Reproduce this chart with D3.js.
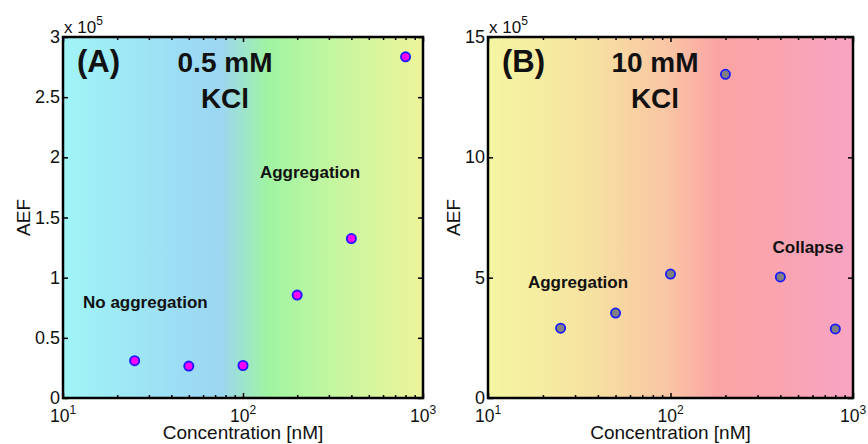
<!DOCTYPE html>
<html><head><meta charset="utf-8">
<script src="https://cdn.jsdelivr.net/npm/d3@7"></script>
<style>body{margin:0;background:#fff}svg{display:block;font-family:"Liberation Sans",Arial,sans-serif}</style>
</head><body>
<svg id="c" width="868" height="444"></svg>
<script>
const concentrations = [25, 50, 100, 200, 400, 800];
const aefA = [0.31, 0.265, 0.27, 0.855, 1.325, 2.835]; // x 10^5
const aefB = [2.9, 3.53, 5.15, 13.45, 5.03, 2.87];    // x 10^5
const yTicksA = [0, 0.5, 1, 1.5, 2, 2.5, 3];
const yTicksB = [0, 5, 10, 15];
const xMajor = [10, 100, 1000];
const xExp = [1, 2, 3];

const svg = d3.select("#c");
const panels = [
  {id:"A", left:63, right:423, yMax:3, ticks:yTicksA, data:aefA, fill:"#ff00ff", aefX:30,
   stops:[[0,"#a0f4f6"],[0.34,"#9cdcf4"],[0.44,"#9cd6f0"],[0.57,"#a0f4a2"],[0.75,"#c4f6a0"],[1,"#eef49a"]],
   label:"(A)", title:["0.5 mM","KCl"], titleX:225,
   notes:[{t:"Aggregation",x:310,y:178,a:"middle"},{t:"No aggregation",x:83,y:308,a:"start"}]},
  {id:"B", left:488, right:853, yMax:15, ticks:yTicksB, data:aefB, fill:"#808080", aefX:460,
   stops:[[0,"#f4f6a2"],[0.26,"#f6e4a0"],[0.49,"#f9c6a4"],[0.63,"#fba4a4"],[0.8,"#faa4b0"],[1,"#f8a4c4"]],
   label:"(B)", title:["10 mM","KCl"], titleX:655,
   notes:[{t:"Aggregation",x:578,y:288,a:"middle"},{t:"Collapse",x:808,y:253,a:"middle"}]}
];
const plotTop = 37, plotBottom = 398;
const defs = svg.append("defs");

function styleAxis(g){
  g.select(".domain").remove();
  g.selectAll(".tick line").attr("stroke","#000").attr("stroke-width",1.5);
  g.selectAll(".tick text").remove();
}

panels.forEach(p => {
  const x = d3.scaleLog().domain([10,1000]).range([p.left,p.right]);
  const y = d3.scaleLinear().domain([0,p.yMax]).range([plotBottom,plotTop]);
  const g = defs.append("linearGradient").attr("id","g"+p.id).attr("x1","0").attr("x2","1").attr("y1","0").attr("y2","0");
  p.stops.forEach(s => g.append("stop").attr("offset",s[0]).attr("stop-color",s[1]));
  svg.append("rect").attr("x",p.left).attr("y",plotTop).attr("width",p.right-p.left).attr("height",plotBottom-plotTop).attr("fill","url(#g"+p.id+")");

  const minor = [];
  for (let d=10; d<1000; d*=10) for (let k=2;k<=9;k++) minor.push(d*k);

  // inward ticks via d3 axes
  svg.append("g").attr("transform",`translate(0,${plotBottom})`).call(d3.axisBottom(x).tickValues(minor).tickSize(-3)).call(styleAxis);
  svg.append("g").attr("transform",`translate(0,${plotTop})`).call(d3.axisTop(x).tickValues(minor).tickSize(-3)).call(styleAxis);
  svg.append("g").attr("transform",`translate(0,${plotBottom})`).call(d3.axisBottom(x).tickValues(xMajor).tickSize(-5)).call(styleAxis);
  svg.append("g").attr("transform",`translate(0,${plotTop})`).call(d3.axisTop(x).tickValues(xMajor).tickSize(-5)).call(styleAxis);
  svg.append("g").attr("transform",`translate(${p.left},0)`).call(d3.axisLeft(y).tickValues(p.ticks).tickSize(-5)).call(styleAxis);
  svg.append("g").attr("transform",`translate(${p.right},0)`).call(d3.axisRight(y).tickValues(p.ticks).tickSize(-5)).call(styleAxis);

  // y tick labels
  svg.append("g").selectAll("text").data(p.ticks).join("text")
    .attr("x",p.left-3).attr("y",d=>y(d)+6).attr("text-anchor","end")
    .attr("font-size",18).attr("fill","#111").text(d=>d);
  // exponent
  const ex = svg.append("text").attr("x",p.left+1).attr("y",plotTop-4).attr("font-size",17).attr("fill","#111");
  ex.append("tspan").text("x 10");
  ex.append("tspan").attr("dy",-8).attr("font-size",12).text("5");

  // x tick labels
  xMajor.forEach((v,i) => {
    const t = svg.append("text").attr("x",x(v)-13).attr("y",plotBottom+24).attr("font-size",17.5).attr("fill","#111");
    t.append("tspan").text("10");
    t.append("tspan").attr("dy",-8).attr("font-size",12).text(xExp[i]);
  });
  svg.append("text").attr("x",(p.left+p.right)/2).attr("y",439).attr("text-anchor","middle")
    .attr("font-size",19).attr("fill","#111").text("Concentration [nM]");
  svg.append("text").attr("transform",`translate(${p.aefX},${(plotTop+plotBottom)/2}) rotate(-90)`)
    .attr("text-anchor","middle").attr("font-size",19).attr("fill","#111").text("AEF");

  // frame
  svg.append("rect").attr("x",p.left).attr("y",plotTop).attr("width",p.right-p.left).attr("height",plotBottom-plotTop)
    .attr("fill","none").attr("stroke","#000").attr("stroke-width",2.5);

  // labels
  svg.append("text").attr("x",p.left+14).attr("y",72).attr("font-size",31).attr("font-weight","bold").attr("fill","#111").text(p.label);
  svg.append("text").attr("x",p.titleX).attr("y",72).attr("text-anchor","middle").attr("font-size",28).attr("font-weight","bold").attr("fill","#111").text(p.title[0]);
  svg.append("text").attr("x",p.titleX).attr("y",108).attr("text-anchor","middle").attr("font-size",28).attr("font-weight","bold").attr("fill","#111").text(p.title[1]);
  p.notes.forEach(n => svg.append("text").attr("x",n.x).attr("y",n.y).attr("text-anchor",n.a)
    .attr("font-size",17).attr("font-weight","bold").attr("fill","#111").text(n.t));

  // points
  svg.append("g").selectAll("circle").data(concentrations).join("circle")
    .attr("cx",d=>x(d)).attr("cy",(d,i)=>y(p.data[i])).attr("r",4.6)
    .attr("fill",p.fill).attr("stroke","#1a1aff").attr("stroke-width",1.8);
});
</script>
</body></html>
